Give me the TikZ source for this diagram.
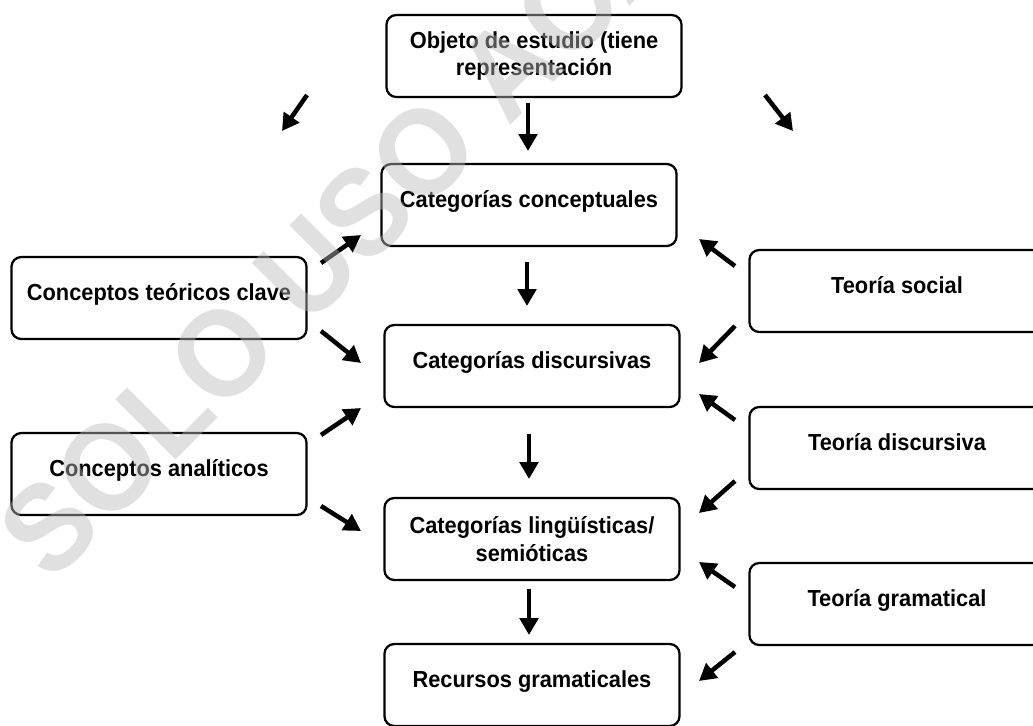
\documentclass[tikz,border=0pt]{standalone}
\usepackage{fontspec}
\setmainfont{Liberation Sans}[FakeStretch=0.94]
\usepackage{tikz}
\usetikzlibrary{arrows.meta}

\begin{document}
\begin{tikzpicture}[x=0.025cm, y=-0.025cm,
    caja/.style={shape=rectangle, draw=black, line width=1.6pt, rounded corners=7pt,
        minimum width=7.375cm, minimum height=2.05cm, inner sep=0pt, align=center,
        font=\fontsize{16.5}{19.9}\selectfont\bfseries},
    linea/.style={caja, text height=0.95em, text depth=0.6em},
    flecha/.style={line width=3.2pt, -{Triangle[length=12pt, width=13pt]}}]
    \useasboundingbox (0,0) rectangle (1033,725);

    \node[caja] (obj) at (534,56) {Objeto de estudio (tiene\\representación};
    \node[linea] (ccon) at (529,205) {Categorías conceptuales};
    \node[linea] (cdis) at (532,366) {Categorías discursivas};
    \node[caja] (cling) at (532,539) {Categorías lingüísticas/\\semióticas};
    \node[linea] (rec) at (532,685) {Recursos gramaticales};

    \node[linea] (ctc) at (159,298) {Conceptos teóricos clave};
    \node[linea] (can) at (159,474) {Conceptos analíticos};

    \node[linea] (tsoc) at (897,291) {Teoría social};
    \node[linea] (tdis) at (897,448) {Teoría discursiva};
    \node[linea] (tgra) at (897,604) {Teoría gramatical};

    % flechas sueltas
    \coordinate (o1) at (528,103);  \coordinate (o2) at (528,151);
    \coordinate (ol1) at (307,95);  \coordinate (ol2) at (282,131);
    \coordinate (or1) at (765,95);  \coordinate (or2) at (793,131);
    \coordinate (c1) at (527,262);  \coordinate (c2) at (527,306);
    \coordinate (d1) at (529,434);  \coordinate (d2) at (529,479);
    \coordinate (l1) at (529,589);  \coordinate (l2) at (529,635);

    \coordinate (k1) at (321,263);  \coordinate (k2) at (361,235);
    \coordinate (k3) at (321,331);  \coordinate (k4) at (361,363);
    \coordinate (n1) at (321,435);  \coordinate (n2) at (361,408);
    \coordinate (n3) at (321,506);  \coordinate (n4) at (361,531);

    \coordinate (s1) at (735,266);  \coordinate (s2) at (699,239);
    \coordinate (s3) at (735,326);  \coordinate (s4) at (699,363);
    \coordinate (t1) at (735,420);  \coordinate (t2) at (699,394);
    \coordinate (t3) at (735,481);  \coordinate (t4) at (699,513);
    \coordinate (g1) at (735,587);  \coordinate (g2) at (699,562);
    \coordinate (g3) at (735,652);  \coordinate (g4) at (699,681);

    \path [flecha] (o1) edge (o2);
    \path [flecha] (ol1) edge (ol2);
    \path [flecha] (or1) edge (or2);
    \path [flecha] (c1) edge (c2);
    \path [flecha] (d1) edge (d2);
    \path [flecha] (l1) edge (l2);

    \path [flecha] (k1) edge (k2);
    \path [flecha] (k3) edge (k4);
    \path [flecha] (n1) edge (n2);
    \path [flecha] (n3) edge (n4);

    \path [flecha] (s1) edge (s2);
    \path [flecha] (s3) edge (s4);
    \path [flecha] (t1) edge (t2);
    \path [flecha] (t3) edge (t4);
    \path [flecha] (g1) edge (g2);
    \path [flecha] (g3) edge (g4);

    % marca de agua
    \node[rotate=45, anchor=base west, text=black!27, text opacity=0.45,
        font=\fontsize{88}{88}\selectfont\bfseries] (marca) at (48,588) {SOLO USO ACADÉMICO};
\end{tikzpicture}
\end{document}
